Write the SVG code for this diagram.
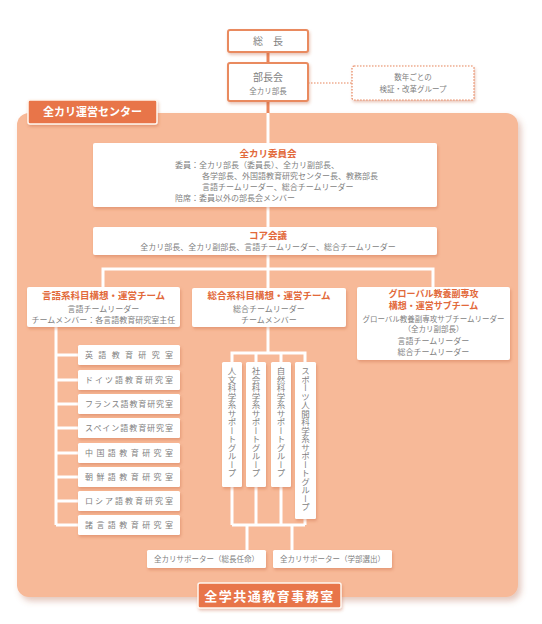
<svg xmlns="http://www.w3.org/2000/svg" width="542" height="624" viewBox="0 0 542 624">
<defs>
<filter id="sh" x="-20%" y="-20%" width="140%" height="150%">
<feDropShadow dx="1" dy="2" stdDeviation="1.5" flood-color="#c05a30" flood-opacity="0.35"/>
</filter>
<filter id="psh" x="-5%" y="-5%" width="110%" height="110%">
<feDropShadow dx="3" dy="4" stdDeviation="3" flood-color="#b06040" flood-opacity="0.35"/>
</filter>
<style>
text{font-family:"Noto Sans CJK JP","Noto Sans",sans-serif;fill:#7f7f7f;text-anchor:middle}
.box{fill:#ffffff;filter:url(#sh)}
.obox{fill:#ffffff;stroke:#e98a5e;stroke-width:2;filter:url(#sh)}
.ttl{fill:#e2693a;font-weight:bold;font-size:9.5px}
.body{font-size:8px}
.sm{font-size:7.5px}
.lab{fill:#e8744a;stroke:#fff7f0;stroke-width:1.5;filter:url(#sh)}
.labt{fill:#ffffff;font-weight:bold}
.wl{stroke:#ffffff;stroke-width:3;fill:none}
.ol{stroke:#e8845a;stroke-width:3;fill:none}
.room{font-size:8px}
.vt{font-size:8.5px;writing-mode:vertical-rl;text-anchor:start}
</style>
</defs>

<g id="panel">
<rect x="17" y="113" width="501" height="484" rx="12" fill="#f7b998" filter="url(#psh)"/>
</g>

<g id="connectors">
<line class="ol" x1="268" y1="52" x2="268" y2="63"/>
<line class="ol" x1="268" y1="101" x2="268" y2="114"/>
<line x1="308" y1="83" x2="352" y2="83" stroke="#e8845a" stroke-width="1.2" stroke-dasharray="1.5,1.5"/>
<line class="wl" x1="268" y1="113" x2="268" y2="143"/>
<line class="wl" x1="268" y1="207" x2="268" y2="227"/>
<line class="wl" x1="268" y1="255" x2="268" y2="288"/>
<path class="wl" d="M103 287 V269 H433 V287"/>
<path class="wl" d="M56 327 V525"/>
<path class="wl" d="M56 355 H78 M56 380 H78 M56 404 H78 M56 428 H78 M56 453 H78 M56 477 H78 M56 501 H78 M56 525 H78"/>
<path class="wl" d="M268 327 V353"/>
<path class="wl" d="M232 362 V353 H305 V362 M256 353 V362 M281 353 V362"/>
<path class="wl" d="M232 487 V525 M256 487 V525 M281 487 V525 M305 519 V525 M232 525 H305"/>
<path class="wl" d="M247 525 V550 M292 525 V550"/>
</g>

<g id="soucho">
<rect class="obox" x="228" y="30" width="80" height="22" rx="2"/>
<text x="268" y="45" font-size="10">総　長</text>
</g>

<g id="buchokai">
<rect class="obox" x="228" y="63" width="80" height="38" rx="2"/>
<text x="268" y="81" font-size="10">部長会</text>
<text x="268" y="94" class="sm">全カリ部長</text>
</g>

<g id="kensho">
<rect x="352" y="66" width="122" height="34" rx="2" fill="#ffffff" stroke="#e8845a" stroke-width="1.2" stroke-dasharray="1.5,1.5" filter="url(#sh)"/>
<text x="413" y="80" class="sm">数年ごとの</text>
<text x="413" y="92" class="sm">検証・改革グループ</text>
</g>

<g id="center-label">
<rect class="lab" x="28" y="100" width="129" height="24" rx="2"/>
<text x="92.5" y="116" class="labt" font-size="11">全カリ運営センター</text>
</g>

<g id="iinkai">
<rect class="box" x="93" y="143" width="344" height="64" rx="2"/>
<text x="268" y="157" class="ttl" font-size="10">全カリ委員会</text>
<text x="175" y="168" class="body" style="text-anchor:start">委員：全カリ部長（委員長）、全カリ副部長、</text>
<text x="202" y="179" class="body" style="text-anchor:start">各学部長、外国語教育研究センター長、教務部長</text>
<text x="202" y="190" class="body" style="text-anchor:start">言語チームリーダー、総合チームリーダー</text>
<text x="175" y="201" class="body" style="text-anchor:start">陪席：委員以外の部長会メンバー</text>
</g>

<g id="core">
<rect class="box" x="93" y="227" width="344" height="28" rx="2"/>
<text x="268" y="239" class="ttl" font-size="10">コア会議</text>
<text x="268" y="250" class="body">全カリ部長、全カリ副部長、言語チームリーダー、総合チームリーダー</text>
</g>

<g id="gengo-team">
<rect class="box" x="27" y="287" width="153" height="40" rx="2"/>
<text x="103.5" y="299" class="ttl">言語系科目構想・運営チーム</text>
<text x="103.5" y="312" class="body">言語チームリーダー</text>
<text x="103.5" y="323" class="body">チームメンバー：各言語教育研究室主任</text>
</g>

<g id="sogo-team">
<rect class="box" x="192" y="288" width="154" height="39" rx="2"/>
<text x="269" y="299" class="ttl">総合系科目構想・運営チーム</text>
<text x="269" y="312" class="body">総合チームリーダー</text>
<text x="269" y="323" class="body">チームメンバー</text>
</g>

<g id="global-team">
<rect class="box" x="357" y="287" width="153" height="73" rx="2"/>
<text x="433.5" y="296.5" class="ttl" style="font-size:9px">グローバル教養副専攻</text>
<text x="433.5" y="309" class="ttl" style="font-size:9px">構想・運営サブチーム</text>
<text x="433.5" y="322" class="sm">グローバル教養副専攻サブチームリーダー</text>
<text x="433.5" y="332" class="sm">（全カリ副部長）</text>
<text x="433.5" y="344" class="body">言語チームリーダー</text>
<text x="433.5" y="355" class="body">総合チームリーダー</text>
</g>

<g id="room-en"><rect class="box" x="78" y="345" width="102" height="20" rx="1.5"/><text class="room" x="129" y="358" textLength="88" lengthAdjust="spacing">英語教育研究室</text></g>
<g id="room-de"><rect class="box" x="78" y="370" width="102" height="20" rx="1.5"/><text class="room" x="129" y="383" textLength="88" lengthAdjust="spacing">ドイツ語教育研究室</text></g>
<g id="room-fr"><rect class="box" x="78" y="394" width="102" height="20" rx="1.5"/><text class="room" x="129" y="407" textLength="88" lengthAdjust="spacing">フランス語教育研究室</text></g>
<g id="room-es"><rect class="box" x="78" y="418" width="102" height="20" rx="1.5"/><text class="room" x="129" y="431" textLength="88" lengthAdjust="spacing">スペイン語教育研究室</text></g>
<g id="room-zh"><rect class="box" x="78" y="443" width="102" height="20" rx="1.5"/><text class="room" x="129" y="456" textLength="88" lengthAdjust="spacing">中国語教育研究室</text></g>
<g id="room-ko"><rect class="box" x="78" y="467" width="102" height="20" rx="1.5"/><text class="room" x="129" y="480" textLength="88" lengthAdjust="spacing">朝鮮語教育研究室</text></g>
<g id="room-ru"><rect class="box" x="78" y="491" width="102" height="20" rx="1.5"/><text class="room" x="129" y="504" textLength="88" lengthAdjust="spacing">ロシア語教育研究室</text></g>
<g id="room-etc"><rect class="box" x="78" y="515" width="102" height="20" rx="1.5"/><text class="room" x="129" y="528" textLength="88" lengthAdjust="spacing">諸言語教育研究室</text></g>

<g id="sg-jinbun"><rect class="box" x="222" y="362" width="20" height="125" rx="1.5"/><text class="vt" x="232" y="367">人文科学系サポートグループ</text></g>
<g id="sg-shakai"><rect class="box" x="246" y="362" width="20" height="125" rx="1.5"/><text class="vt" x="256" y="367">社会科学系サポートグループ</text></g>
<g id="sg-shizen"><rect class="box" x="271" y="362" width="20" height="125" rx="1.5"/><text class="vt" x="281" y="367">自然科学系サポートグループ</text></g>
<g id="sg-sports"><rect class="box" x="295" y="362" width="21" height="157" rx="1.5"/><text class="vt" x="305.5" y="367">スポーツ人間科学系サポートグループ</text></g>

<g id="supporter-1">
<rect class="box" x="147" y="550" width="119" height="18" rx="1.5"/>
<text x="206.5" y="562" class="sm">全カリサポーター（総長任命）</text>
</g>
<g id="supporter-2">
<rect class="box" x="273" y="550" width="119" height="18" rx="1.5"/>
<text x="332.5" y="562" class="sm">全カリサポーター（学部選出）</text>
</g>

<g id="jimushitsu">
<rect class="lab" x="198" y="583" width="143" height="25" rx="2"/>
<text x="269.5" y="600.5" class="labt" font-size="13" letter-spacing="1.5">全学共通教育事務室</text>
</g>
</svg>
